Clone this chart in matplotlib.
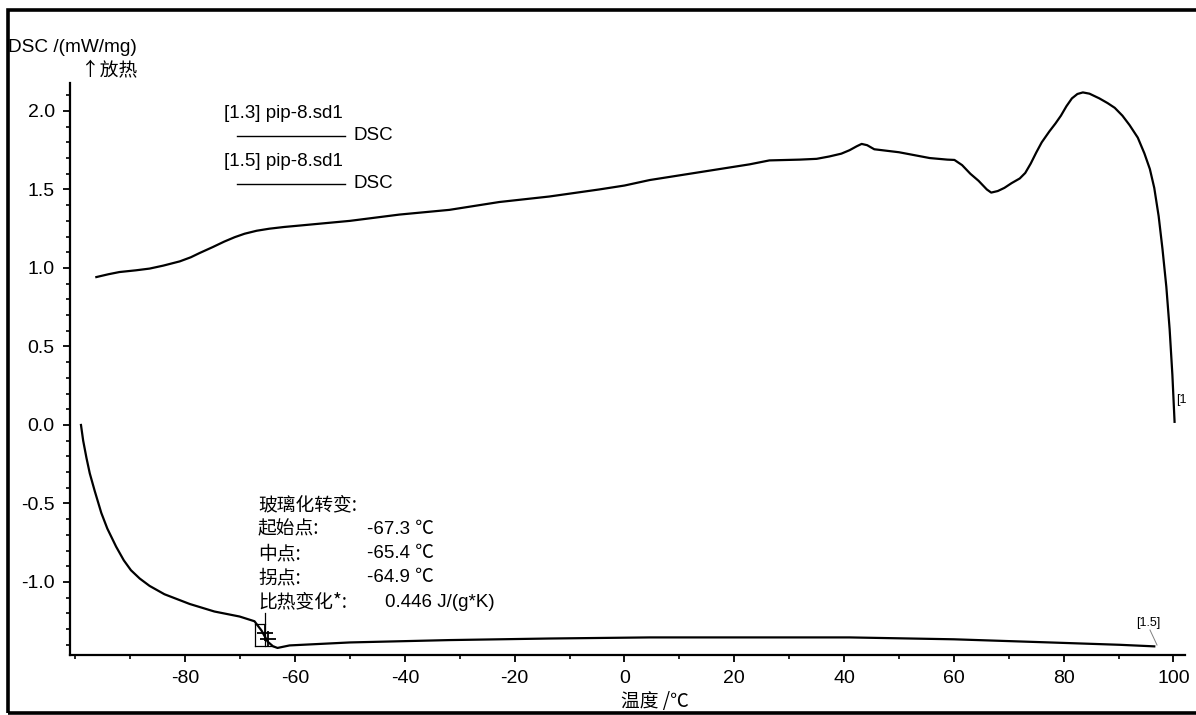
import matplotlib
matplotlib.use("Agg")
import matplotlib.pyplot as plt
from matplotlib.patches import Rectangle
from matplotlib.ticker import MultipleLocator

plt.rcParams['font.family'] = ['Liberation Sans', 'Noto Sans CJK SC', 'DejaVu Sans']
plt.rcParams['axes.unicode_minus'] = False
CJK = ['Noto Sans CJK SC', 'Liberation Sans', 'DejaVu Sans']

# Curve [1.3] pip-8.sd1 (temperature in °C, DSC in mW/mg)
t_13 = [-96.2, -94.0, -92.0, -89.0, -86.5, -84.0, -81.0, -79.0, -77.4, -75.0,
        -72.9, -71.0, -69.2, -67.0, -64.7, -62.0, -59.2, -50.0, -41.0, -31.9,
        -22.8, -13.7, -4.6, 0.0, 4.6, 13.7, 22.8, 26.4, 31.9, 35.0,
        37.3, 39.5, 41.0, 42.3, 43.2, 44.2, 45.5, 50.0, 55.6, 58.8,
        60.1, 61.5, 63.0, 64.5, 66.0, 66.8, 68.0, 69.2, 70.5, 72.0,
        73.0, 74.0, 75.0, 76.0, 77.4, 78.5, 79.5, 80.5, 81.5, 82.5,
        83.5, 84.7, 86.5, 88.0, 89.3, 90.7, 92.0, 93.5, 94.7, 95.7,
        96.5, 97.3, 98.0, 98.7, 99.3, 99.8, 100.2]
dsc_13 = [0.942, 0.960, 0.974, 0.985, 0.996, 1.015, 1.042, 1.068, 1.095, 1.133,
          1.168, 1.196, 1.218, 1.237, 1.250, 1.261, 1.270, 1.300, 1.340, 1.370,
          1.420, 1.455, 1.500, 1.525, 1.560, 1.610, 1.660, 1.685, 1.690, 1.695,
          1.710, 1.728, 1.750, 1.775, 1.790, 1.782, 1.756, 1.737, 1.700, 1.690,
          1.688, 1.655, 1.600, 1.555, 1.500, 1.480, 1.490, 1.510, 1.540, 1.570,
          1.605, 1.665, 1.735, 1.800, 1.870, 1.920, 1.970, 2.030, 2.080, 2.108,
          2.118, 2.110, 2.080, 2.050, 2.020, 1.970, 1.910, 1.830, 1.730, 1.630,
          1.510, 1.330, 1.120, 0.880, 0.610, 0.320, 0.020]

# Curve [1.5] pip-8.sd1
t_15 = [-99.0, -98.6, -98.0, -97.4, -96.5, -95.3, -94.2, -92.6, -91.2, -89.9,
        -88.3, -86.5, -83.8, -79.2, -74.7, -70.1, -67.4, -66.1, -65.0, -64.0,
        -63.2, -61.0, -50.0, -31.9, -13.7, 4.6, 22.8, 41.0, 60.0, 77.4,
        90.2, 96.5]
dsc_15 = [0.000, -0.100, -0.210, -0.308, -0.420, -0.560, -0.660, -0.775, -0.862, -0.925,
          -0.978, -1.025, -1.078, -1.140, -1.188, -1.220, -1.250, -1.310, -1.380, -1.410,
          -1.420, -1.404, -1.385, -1.370, -1.360, -1.353, -1.353, -1.353, -1.365, -1.385,
          -1.400, -1.410]

# Glass transition evaluation
tg_onset, tg_mid, tg_inflect = -67.3, -65.4, -64.9
tg_dcp = 0.446
tg_level_hi, tg_level_lo, tg_top = -1.27, -1.41, -1.20

x_major = list(range(-80, 101, 20))
y_major = [-1.0, -0.5, 0.0, 0.5, 1.0, 1.5, 2.0]

fig = plt.figure(figsize=(11.96, 7.15), dpi=100)
ax = fig.add_axes([70 / 1196, 60 / 715, 1115 / 1196, 572 / 715])

ax.plot(t_13, dsc_13, color='black', lw=1.6, solid_joinstyle='round')
ax.plot(t_15, dsc_15, color='black', lw=1.6, solid_joinstyle='round')

ax.set_xlim(-101.0, 102.1)
ax.set_ylim(-1.465, 2.178)
ax.set_xticks(x_major)
ax.set_yticks(y_major)
ax.set_yticklabels([f'{v:.1f}' for v in y_major])
ax.xaxis.set_minor_locator(MultipleLocator(10))
ax.yaxis.set_minor_locator(MultipleLocator(0.1))
ax.tick_params(which='major', direction='out', length=5, width=1.3, labelsize=14, pad=6)
ax.tick_params(which='minor', direction='out', length=3, width=1.2)
for s in ('top', 'right'):
    ax.spines[s].set_visible(False)
for s in ('left', 'bottom'):
    ax.spines[s].set_linewidth(1.6)

tr = fig.transFigure
def fx(px):
    return px / 1196
def fy(py):
    return 1 - py / 715

# Axis titles
fig.text(fx(8), fy(47), 'DSC /(mW/mg)', fontsize=13.7, va='center', ha='left')
fig.text(fx(137), fy(71), '↑放热', fontsize=13.5, va='center', ha='right', family=CJK)
fig.text(fx(655), fy(701), '温度 /℃', fontsize=13.5, va='center', ha='center', family=CJK)

# Legend block
for i, name in enumerate(['[1.3] pip-8.sd1', '[1.5] pip-8.sd1']):
    y0 = 113 + i * 48
    fig.text(fx(224), fy(y0), name, fontsize=13.5, va='center', ha='left')
    fig.add_artist(plt.Line2D([fx(237), fx(345)], [fy(y0 + 23), fy(y0 + 23)],
                              color='black', lw=1.0, transform=tr))
    fig.text(fx(353), fy(y0 + 23), 'DSC', fontsize=13.5, va='center', ha='left')

# Glass transition markers
ax.plot([tg_onset, tg_mid], [tg_level_hi, tg_level_hi], color='black', lw=0.9)
ax.plot([tg_onset, tg_onset], [tg_level_hi, tg_level_lo], color='black', lw=0.9)
ax.plot([tg_mid, tg_mid], [tg_top, tg_level_lo], color='black', lw=0.9)
ax.plot([tg_onset, tg_mid + 1.5], [tg_level_lo, tg_level_lo], color='black', lw=0.9)
ax.plot([tg_mid, tg_inflect], [-1.325, -1.36], marker='+', ms=11, mew=1.3,
        color='black', lw=0)

# Glass transition annotation
rows = [('玻璃化转变:', ''),
        ('起始点:', f'{tg_onset} ℃'),
        ('中点:', f'{tg_mid} ℃'),
        ('拐点:', f'{tg_inflect} ℃'),
        ('比热变化*:', f'{tg_dcp} J/(g*K)')]
for i, (lab, val) in enumerate(rows):
    y0 = 505 + i * 24.3
    fig.text(fx(258), fy(y0), lab, fontsize=13.5, va='center', ha='left', family=CJK)
    if val:
        xv = 385 if i == 4 else 367
        fig.text(fx(xv), fy(y0), val, fontsize=13.5, va='center', ha='left',
                 family=['Liberation Sans', 'Noto Sans CJK SC'])

# Curve end tags
fig.text(fx(1176), fy(400), '[1', fontsize=9, va='center', ha='left')
fig.text(fx(1148), fy(623), '[1.5]', fontsize=9, va='center', ha='center')
fig.add_artist(plt.Line2D([fx(1150), fx(1157)], [fy(630), fy(645)], color='gray',
                          lw=0.7, transform=tr))

# Outer frame
fig.add_artist(Rectangle((8 / 1196, 2 / 715), 1.2, 703 / 715, transform=tr,
                         fill=False, edgecolor='black', lw=2.6, clip_on=False))

fig.savefig('out.png', dpi=100, facecolor='white')
